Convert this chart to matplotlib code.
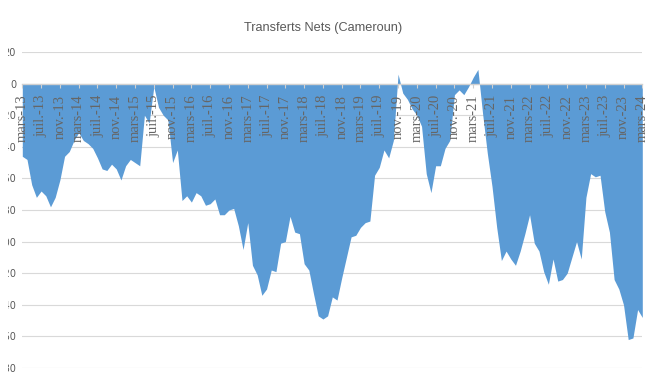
import matplotlib
matplotlib.use("Agg")
import matplotlib.pyplot as plt
from matplotlib.transforms import Bbox, TransformedBbox

# Transferts nets mensuels, mars 2013 -> mars 2024
transferts = [
    -46, -48, -64, -72, -68, -71, -78, -72, -61, -46, -43, -36,
    -31, -36, -38, -41, -47, -54, -55, -51, -54, -61, -52, -48,
    -50, -52, -20, -25, -2, -15, -20, -23, -50, -42, -74, -71,
    -75, -69, -71, -77, -76, -73, -83, -83, -80, -79, -90, -105,
    -88, -115, -121, -134, -130, -118, -119, -101, -100, -84, -94, -95,
    -114, -118, -133, -147, -149, -147, -135, -137, -123, -110, -97, -96,
    -91, -88, -87, -58, -53, -42, -47, -36, 6, -6, -10, -16,
    -20, -27, -57, -69, -52, -52, -41, -36, -7, -4, -7, -2,
    4, 9, -19, -44, -65, -91, -112, -106, -111, -115, -106, -95,
    -83, -101, -106, -119, -127, -111, -125, -124, -120, -110, -100, -111,
    -72, -57, -59, -58, -81, -94, -124, -130, -140, -162, -161, -143,
    -148,
]

mois = ["mars", "juil.", "nov."]
annees = list(range(13, 25))
etiquettes = [f"{m}-{a}" for a in annees for m in mois][:34]
y_ticks = list(range(20, -181, -20))

gris = "#595959"
bleu = "#5B9BD5"

fig = plt.figure(figsize=(6.55, 3.88), dpi=100)
ax = fig.add_axes([22.3 / 655, 1 - 368 / 388, 620 / 655, 316 / 388])

x = list(range(len(transferts)))
ax.fill_between(x, transferts, 0, color=bleu, linewidth=0, zorder=1)

# quadrillage sous la surface
for v in y_ticks:
    ax.axhline(v, color="#D9D9D9", linewidth=0.8, zorder=0)

ax.set_xlim(0, len(transferts) - 1)
ax.set_ylim(-180, 20)

for s in ["top", "right", "left"]:
    ax.spines[s].set_visible(False)
ax.spines["bottom"].set_position(("data", 0))
ax.spines["bottom"].set_color("#D0D0D0")
ax.spines["bottom"].set_linewidth(1.0)
ax.spines["bottom"].set_zorder(3)

ax.set_xticks(x[::4])
ax.set_xticklabels(etiquettes, rotation=90, family="Liberation Serif",
                   fontsize=10.5, color="#666666")
ax.tick_params(axis="x", direction="out", length=3, width=0.8,
               color="#D0D0D0", pad=5)

ax.set_yticks(y_ticks)
ax.set_yticklabels([str(v) for v in y_ticks], fontsize=7, color=gris)
ax.tick_params(axis="y", length=0, pad=4.5)

# les libellés de l'axe vertical sont rognés au bord gauche
clip = TransformedBbox(Bbox([[8 / 655, 0], [1, 1]]), fig.transFigure)
for lab in ax.get_yticklabels():
    lab.set_clip_box(clip)
    lab.set_clip_on(True)

fig.text(0.494, 0.928, "Transferts Nets (Cameroun)",
         family="Liberation Sans", fontsize=9.2, color=gris,
         ha="center", va="center")

fig.savefig("out.png", dpi=100)
